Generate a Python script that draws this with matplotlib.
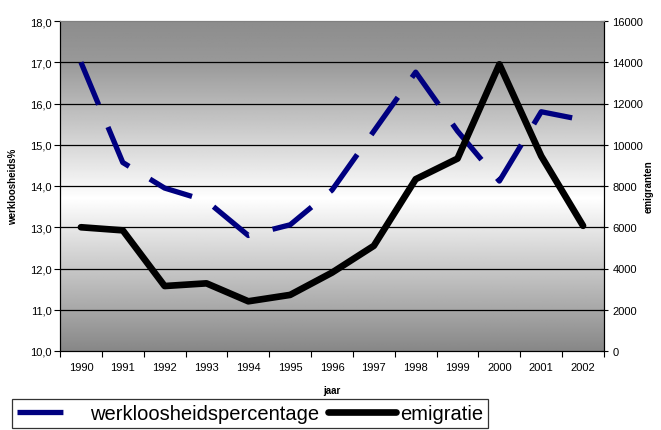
import numpy as np
import matplotlib
matplotlib.use('Agg')
import matplotlib.pyplot as plt
from matplotlib.lines import Line2D

plt.rcParams['font.family'] = ['Liberation Sans', 'DejaVu Sans']

# data
years = ['1990', '1991', '1992', '1993', '1994', '1995', '1996',
         '1997', '1998', '1999', '2000', '2001', '2002']
werkloosheid = [17.0, 14.57, 13.95, 13.64, 12.8, 13.06, 13.9,
                15.33, 16.76, 15.33, 14.12, 15.8, 15.6]
emigratie = [6000, 5850, 3150, 3280, 2410, 2720, 3800,
             5100, 8330, 9330, 13900, 9450, 6070]

left_ticks = np.arange(10, 18.1, 1)
right_ticks = np.arange(0, 16001, 2000)

fig = plt.figure(figsize=(6.61, 4.31), dpi=100)
ax = fig.add_axes([60 / 661, 1 - 352 / 431, 544 / 661, 330 / 431])
ax2 = ax.twinx()

x = np.arange(len(years))

# gradient background (dark top/bottom, white in the middle)
yy = np.linspace(18, 10, 400)
shade = np.interp(yy, [10, 13.7, 17, 18], [0.53, 1.0, 0.60, 0.55])
img = np.repeat(shade[:, None], 2, axis=1)
ax.imshow(img, cmap='gray', vmin=0, vmax=1, aspect='auto',
          extent=[-0.5, len(years) - 0.5, 10, 18], zorder=0,
          interpolation='bilinear')

for v in left_ticks[1:-1]:
    ax.axhline(v, color='black', lw=0.9, zorder=1)

blue_dash = [8.7, 4.6]
ax.plot(x, werkloosheid, color='#000080', lw=3.8,
        dashes=blue_dash, dash_capstyle='butt', zorder=3)
ax2.plot(x, emigratie, color='black', lw=4.8,
         solid_capstyle='round', solid_joinstyle='round', zorder=3)

ax.set_xlim(-0.5, len(years) - 0.5)
ax.set_ylim(10, 18)
ax2.set_ylim(0, 16000)

ax.set_yticks(left_ticks)
ax.set_yticklabels([('%.1f' % v).replace('.', ',') for v in left_ticks])
ax2.set_yticks(right_ticks)
ax2.set_yticklabels(['%d' % v for v in right_ticks])

ax.set_xticks(np.arange(-0.5, len(years), 1))
ax.set_xticklabels([])
ax.set_xticks(x, minor=True)
ax.set_xticklabels(years, minor=True)
ax.tick_params(axis='x', which='major', direction='out', length=4, width=0.8)
ax.tick_params(axis='x', which='minor', length=0, pad=8, labelsize=8)
ax.tick_params(axis='y', direction='out', length=4, width=0.8, labelsize=8, pad=2)
ax2.tick_params(axis='y', direction='inout', length=6, width=0.8, labelsize=8, pad=3)

for a in (ax, ax2):
    a.spines['top'].set_color('#808080')
    a.spines['left'].set_color('black')
    a.spines['right'].set_color('black')
    a.spines['bottom'].set_color('black')

ax.set_xlabel('jaar', fontsize=7, fontweight='bold', labelpad=9)
ax.set_ylabel('werkloosheids%', fontsize=7, fontweight='bold', labelpad=9)
ax2.set_ylabel('emigranten', fontsize=7, fontweight='bold')
ax2.yaxis.set_label_coords(1.072, 0.5)

handles = [Line2D([], [], color='#000080', lw=3.8, dashes=blue_dash, dash_capstyle='butt'),
           Line2D([], [], color='black', lw=4.8, solid_capstyle='round')]
leg = fig.legend(handles, ['werkloosheidspercentage', 'emigratie'], ncol=2,
                 loc='upper left', bbox_to_anchor=(12 / 661, 1 - 400 / 431),
                 fontsize=14.5, frameon=True, fancybox=False, handlelength=3.4,
                 handletextpad=0.2, columnspacing=0.45, borderpad=0.25,
                 borderaxespad=0)
leg.get_frame().set_edgecolor('black')
leg.get_frame().set_linewidth(0.9)

fig.savefig('out.png', dpi=100)
